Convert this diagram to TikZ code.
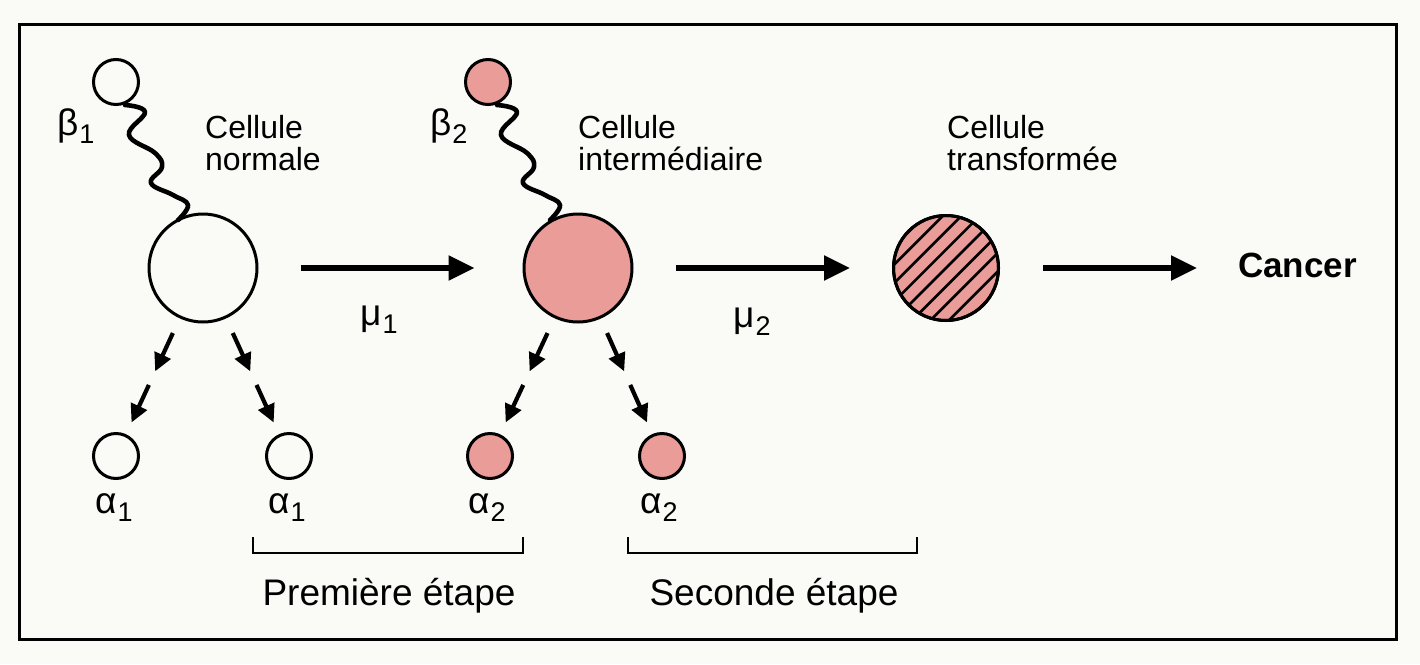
\documentclass[tikz,border=0pt]{standalone}
\usepackage{fontspec}
\setmainfont{Liberation Sans}
\usetikzlibrary{arrows.meta,calc}
\definecolor{pinkcell}{RGB}{233,156,152}
\definecolor{paper}{RGB}{250,250,246}
\newcommand\gsb[2]{#1\kern1pt\raisebox{-8pt}{\fontsize{27}{27}\selectfont #2}}
\tikzset{
  cellbig/.style={circle,draw,line width=3pt,minimum size=108pt,inner sep=0pt},
  cellsmall/.style={circle,draw,line width=3pt,minimum size=45pt,inner sep=0pt},
  bigarr/.style={line width=5.5pt,-{Triangle[length=26pt,width=24pt]}},
  smallarr/.style={line width=4.2pt,-{Triangle[length=18pt,width=17pt]}},
  wavyline/.style={line width=4.6pt,line cap=round,line join=round},
  lbl/.style={font=\fontsize{32}{32}\selectfont,align=left,inner sep=0pt,anchor=north west},
  greek/.style={font=\fontsize{37}{37}\selectfont,inner sep=0pt,anchor=base west},
  steplbl/.style={font=\fontsize{37}{37}\selectfont,inner sep=0pt,anchor=base},
  brk/.style={line width=2pt},
  hatch/.style={line width=2.6pt}
}
\begin{document}
\begin{tikzpicture}[x=1pt,y=-1pt]
\useasboundingbox (0,0) rectangle (1420,664);
\fill[paper] (0,0) rectangle (1420,664);
\draw[line width=3pt] (19,24) rectangle (1396,639);

% cells
\node[cellbig] (c1) at (203,268) {};
\node[cellbig,fill=pinkcell] (c2) at (578,268) {};
\node[cellbig,fill=pinkcell,minimum size=105pt] (c3) at (946,268) {};
\begin{scope}
  \clip (c3.center) circle[radius=52pt];
  \foreach \k in {-6,...,6} {
    \draw[hatch] ($(c3.center)+(\k*9.2-90,\k*9.2+90)$) -- ($(c3.center)+(\k*9.2+90,\k*9.2-90)$);
  }
\end{scope}
\draw[line width=3pt] (c3.center) circle[radius=52.5pt];

\node[cellsmall] (b1) at (116,82) {};
\node[cellsmall,fill=pinkcell] (b2) at (488,82) {};
\node[cellsmall] (a11) at (116,456) {};
\node[cellsmall] (a12) at (289,456) {};
\node[cellsmall,fill=pinkcell] (a21) at (490,456) {};
\node[cellsmall,fill=pinkcell] (a22) at (662,456) {};

% wavy links (drawn relative to the small cell)
\foreach \b in {b1,b2} {
  \begin{scope}[shift={(\b.center)}]
    \draw[wavyline] plot[smooth,tension=0.7] coordinates {(9,23) (29,30) (13,53) (39,71) (46,85) (35,101) (57,113) (72,123) (62,138)};
  \end{scope}
}

% labels
\node[lbl] (t1) at (205,115) {Cellule\\normale};
\node[lbl] (t2) at (578,115) {Cellule\\intermédiaire};
\node[lbl] (t3) at (947,115) {Cellule\\transformée};
\node[font=\fontsize{35}{35}\selectfont\bfseries,inner sep=0pt,anchor=base west] (cancer) at (1238,277) {Cancer};

\node[greek] (gb1) at (57,135) {\gsb{β}{1}};
\node[greek] (gb2) at (430,135) {\gsb{β}{2}};
\node[greek] (gm1) at (360,325) {\gsb{μ}{1}};
\node[greek] (gm2) at (733,327) {\gsb{μ}{2}};
\node[greek] (ga11) at (95,513) {\gsb{α}{1}};
\node[greek] (ga12) at (268,513) {\gsb{α}{1}};
\node[greek] (ga21) at (468,513) {\gsb{α}{2}};
\node[greek] (ga22) at (640,513) {\gsb{α}{2}};

% main arrows
\draw[bigarr] ($(c1.east)+(42,0)$) -- ($(c2.west)+(-48,0)$);
\draw[bigarr] ($(c2.east)+(42,0)$) -- ($(c3.west)+(-42,0)$);
\draw[bigarr] ($(c3.east)+(43,0)$) -- ($(c3.east -| cancer.west)+(-41,0)$);

% daughter arrows (two pieces each)
\foreach \p/\d in {c1/a11,c1/a12,c2/a21,c2/a22} {
  \draw[smallarr] ($(\p.center)!0.346!(\d.center)$) -- ($(\p.center)!0.55!(\d.center)$);
  \draw[smallarr] ($(\p.center)!0.622!(\d.center)$) -- ($(\p.center)!0.822!(\d.center)$);
}

% brackets
\draw[brk] (253,537) |- (523,553) -- (523,537);
\draw[brk] (628,537) |- (917,553) -- (917,537);
\node[steplbl] (s1) at (389,605) {Première étape};
\node[steplbl] (s2) at (774,605) {Seconde étape};
\end{tikzpicture}
\end{document}
